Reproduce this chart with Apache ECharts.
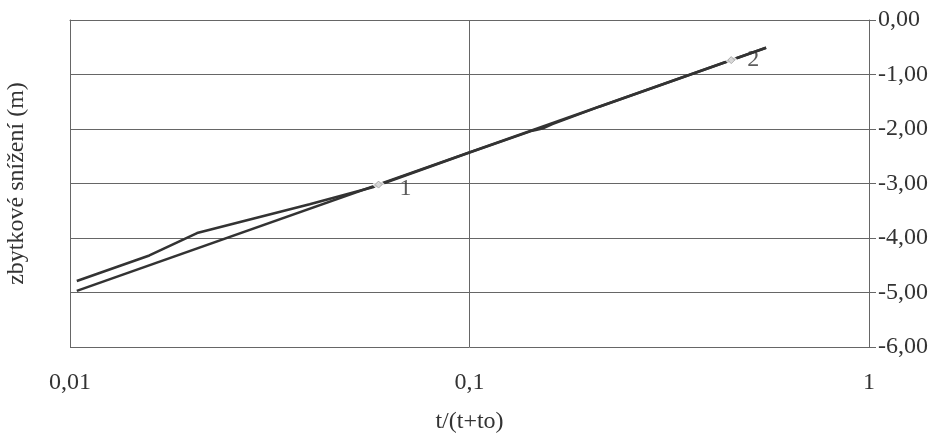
<!DOCTYPE html>
<html>
<head>
<meta charset="utf-8">
<script src="https://cdn.jsdelivr.net/npm/echarts@6/dist/echarts.min.js"></script>
<style>
  html, body { margin: 0; padding: 0; background: #ffffff; }
  #chart { width: 941px; height: 436px; }
</style>
</head>
<body>
<div id="chart"></div>
<script>
// x values: t/(t+to); y values: zbytkové snížení (m)
const measuredX = [0.0104, 0.0158, 0.0208, 0.0282, 0.0398, 0.0572, 0.1, 0.1437, 0.1522, 0.1612, 0.2113, 0.3548, 0.5526];
const measuredY = [-4.79, -4.32, -3.91, -3.66, -3.38, -3.07, -2.43, -2.03, -1.99, -1.91, -1.59, -1.01, -0.51];
const fitX = [0.0104, 0.5526];
const fitY = [-4.97, -0.51];
const pointX = [0.0592, 0.452];
const pointY = [-3.02, -0.736];
const pointLabels = ['1', '2'];
const xTicks = [0.01, 0.1, 1];
const yTicks = [0, -1, -2, -3, -4, -5, -6];

const zip = (xs, ys) => xs.map((x, i) => [x, ys[i]]);
const fmtX = v => String(v).replace('.', ',');
const fmtY = v => v.toFixed(2).replace('.', ',');
const FONT = "'Liberation Serif', 'Times New Roman', serif";
const INK = '#333333';
const GRID = '#666666';
const FS = 24;

const chart = echarts.init(document.getElementById('chart'), null, { renderer: 'canvas' });
chart.setOption({
  backgroundColor: '#ffffff',
  animation: false,
  grid: { left: 70, right: 72, top: 20, bottom: 89, containLabel: false, outerBoundsMode: 'none' },
  xAxis: {
    type: 'log',
    logBase: 10,
    min: xTicks[0],
    max: xTicks[xTicks.length - 1],
    name: 't/(t+to)',
    nameLocation: 'middle',
    nameGap: 63,
    nameTextStyle: { fontFamily: FONT, fontSize: FS, color: INK },
    axisLine: { show: true, lineStyle: { color: GRID, width: 1 } },
    axisTick: { show: false },
    minorTick: { show: false },
    splitLine: { show: true, lineStyle: { color: GRID, width: 1 } },
    axisLabel: {
      margin: 24,
      fontFamily: FONT, fontSize: FS, color: INK,
      formatter: v => fmtX(v)
    }
  },
  yAxis: [
    {
      type: 'value',
      position: 'right',
      min: yTicks[yTicks.length - 1],
      max: yTicks[0],
      interval: 1,
      axisLine: { show: true, lineStyle: { color: GRID, width: 1 } },
      axisTick: { show: true, length: 7, lineStyle: { color: GRID } },
      splitLine: { show: true, lineStyle: { color: GRID, width: 1 } },
      axisLabel: {
        margin: 9,
        fontFamily: FONT, fontSize: FS, color: INK,
        formatter: v => fmtY(v)
      }
    },
    {
      type: 'value',
      position: 'left',
      min: yTicks[yTicks.length - 1],
      max: yTicks[0],
      interval: 1,
      name: 'zbytkové snížení (m)',
      nameLocation: 'middle',
      nameGap: 41,
      nameTextStyle: { fontFamily: FONT, fontSize: FS, color: INK },
      axisLine: { show: true, lineStyle: { color: GRID, width: 1 } },
      axisTick: { show: false },
      splitLine: { show: false },
      axisLabel: { show: false }
    }
  ],
  series: [
    {
      name: 'measured',
      type: 'line',
      data: zip(measuredX, measuredY),
      showSymbol: false,
      smooth: false,
      lineStyle: { color: INK, width: 2.6 },
      z: 2
    },
    {
      name: 'fit',
      type: 'line',
      data: zip(fitX, fitY),
      showSymbol: false,
      lineStyle: { color: INK, width: 2.6 },
      z: 2
    },
    {
      name: 'halo',
      type: 'scatter',
      data: zip(pointX, pointY),
      symbol: 'diamond',
      symbolSize: 13,
      itemStyle: { color: '#ffffff' },
      silent: true,
      z: 3
    },
    {
      name: 'points',
      type: 'scatter',
      data: zip(pointX, pointY).map((p, i) => ({
        value: p,
        label: {
          show: true,
          position: 'right',
          distance: i === 0 ? 17 : 12,
          offset: i === 0 ? [0, 4] : [0, 0],
          formatter: pointLabels[i],
          fontFamily: FONT, fontSize: FS, color: INK
        }
      })),
      symbol: 'diamond',
      symbolSize: 7,
      itemStyle: { color: '#d6d6d6', borderColor: '#999999', borderWidth: 1 },
      z: 4
    }
  ]
});
</script>
</body>
</html>
